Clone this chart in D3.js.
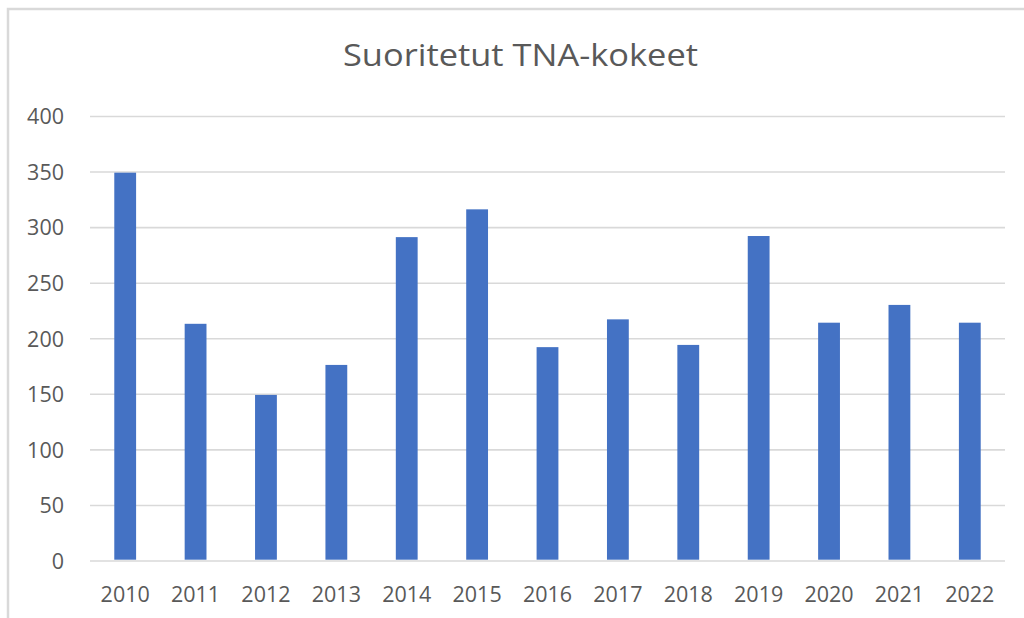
<!DOCTYPE html>
<html>
<head>
<meta charset="utf-8">
<script src="https://cdn.jsdelivr.net/npm/d3@7"></script>
<style>
  html, body { margin: 0; padding: 0; background: #fff; }
  svg { display: block; }
</style>
</head>
<body>
<svg id="chart" width="1024" height="618"></svg>
<script>
const title = "Suoritetut TNA-kokeet";
const years = ["2010","2011","2012","2013","2014","2015","2016","2017","2018","2019","2020","2021","2022"];
const values = [349, 213, 149, 176, 291, 316, 192, 217, 194, 292, 214, 230, 214];
const yTicks = [0, 50, 100, 150, 200, 250, 300, 350, 400];

const svg = d3.select("#chart");
const W = 1024, H = 618;
const plot = { left: 90, right: 1005, top: 116, bottom: 560.5 };

// chart area border
svg.append("rect")
  .attr("x", 8).attr("y", 9)
  .attr("width", W + 10).attr("height", H + 10)
  .attr("fill", "#fff")
  .attr("stroke", "#d9d9d9")
  .attr("stroke-width", 2.5);

const x = d3.scaleBand().domain(years).range([plot.left, plot.right]).paddingInner(0.69).paddingOuter(0.345);
const y = d3.scaleLinear().domain([0, 400]).range([plot.bottom, plot.top]);

// gridlines
const yAxis = d3.axisLeft(y).tickValues(yTicks).tickSize(-(plot.right - plot.left)).tickPadding(26).tickFormat(d3.format("d"));
const gy = svg.append("g").attr("transform", `translate(${plot.left},0)`).call(yAxis);
gy.select(".domain").remove();
gy.selectAll(".tick line").attr("stroke", "#d9d9d9").attr("stroke-width", 1.6);
gy.selectAll(".tick text")
  .attr("fill", "#595959")
  .attr("font-family", "'Open Sans', sans-serif")
  .attr("font-size", "21.5px")
  .attr("dy", "0.36em");

// bars
svg.append("g").selectAll("rect")
  .data(years.map((yr, i) => ({ yr, v: values[i] })))
  .join("rect")
  .attr("x", d => x(d.yr))
  .attr("width", x.bandwidth())
  .attr("y", d => y(d.v))
  .attr("height", d => y(0) - y(d.v) - 0.8)
  .attr("fill", "#4472C4");

// x axis labels
const xAxis = d3.axisBottom(x).tickSize(0).tickPadding(34);
const gx = svg.append("g").attr("transform", `translate(0,${plot.bottom})`).call(xAxis);
gx.select(".domain").remove();
gx.selectAll(".tick text")
  .attr("fill", "#595959")
  .attr("font-family", "'Open Sans', sans-serif")
  .attr("font-size", "21.5px")
  .attr("dy", "0.36em");

// title
svg.append("text")
  .attr("x", 520.5).attr("y", 66)
  .attr("text-anchor", "middle")
  .attr("fill", "#595959")
  .attr("font-family", "'Open Sans', sans-serif")
  .attr("font-size", "30.5px")
  .attr("textLength", 355)
  .attr("lengthAdjust", "spacingAndGlyphs")
  .text(title);
</script>
</body>
</html>
